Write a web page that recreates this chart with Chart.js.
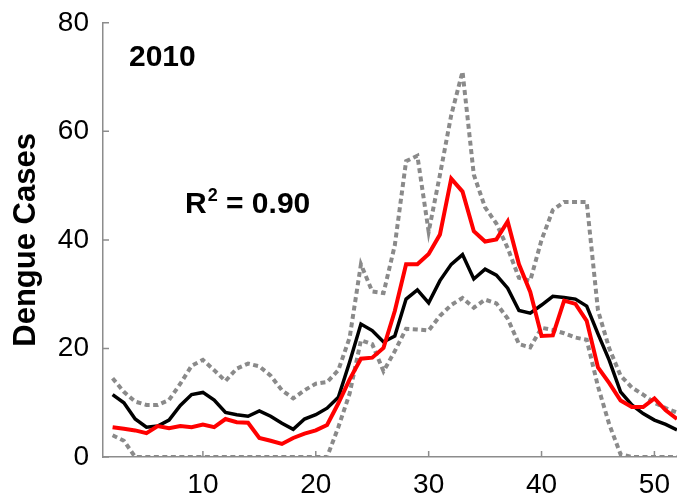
<!DOCTYPE html>
<html>
<head>
<meta charset="utf-8">
<script src="https://cdn.jsdelivr.net/npm/chart.js@4"></script>
<style>
  body { margin: 0; background: #fff; }
  #wrap { width: 677px; height: 500px; }
</style>
</head>
<body>
<div id="wrap"><canvas id="chart" width="677" height="500"></canvas></div>
<script>
const weeks = [2, 3, 4, 5, 6, 7, 8, 9, 10, 11, 12, 13, 14, 15, 16, 17, 18, 19, 20, 21,
  22, 23, 24, 25, 26, 27, 28, 29, 30, 31, 32, 33, 34, 35, 36, 37, 38, 39, 40, 41,
  42, 43, 44, 45, 46, 47, 48, 49, 50, 51, 52];

// observed cases (red)
const observed = [5.5, 5.2, 4.9, 4.4, 5.7, 5.3, 5.7, 5.5, 6, 5.5,
  7, 6.4, 6.3, 3.5, 3, 2.4, 3.5, 4.3, 4.9, 5.9,
  9.9, 14.3, 18.1, 18.3, 20.1, 26.9, 35.5, 35.5, 37.4, 41,
  51.3, 48.9, 41.6, 39.7, 40.1, 43.4, 35.5, 30.4, 22.3, 22.4,
  28.8, 28.2, 25.1, 16.5, 13.6, 10.4, 9.2, 9.2, 10.8, 8.6, 7];

// model mean (black)
const predicted = [11.5, 10, 7, 5.5, 5.7, 6.8, 9.5, 11.5, 11.9, 10.5,
  8.2, 7.8, 7.5, 8.5, 7.5, 6.2, 5.1, 7, 7.8, 9,
  11, 17.5, 24.5, 23.3, 21.2, 22.3, 29.1, 30.8, 28.4, 32.5,
  35.5, 37.3, 32.8, 34.6, 33.5, 31.1, 27, 26.5, 28, 29.6,
  29.4, 29.1, 27.8, 22.7, 17.8, 12, 9.6, 8, 6.8, 6, 5];

// bounds (grey dashed)
const upper = [14.5, 12, 10.2, 9.6, 9.6, 10.5, 13.5, 16.8, 17.9, 16,
  14, 16.3, 17.2, 16.7, 15, 12.3, 10.8, 12.3, 13.5, 13.8,
  16, 22, 35.5, 30.5, 30.2, 39, 54.5, 55.5, 41.5, 52,
  63, 71, 52, 46, 43, 38.5, 33, 32.5, 40, 45.5,
  47, 47, 47, 27, 20, 15, 12.8, 11.5, 10, 9, 8.2];

const lower = [4, 3, 0, 0, 0, 0, 0, 0, 0, 0,
  0, 0, 0, 0, 0, 0, 0, 0, 0, 0,
  5.5, 11.7, 21.5, 20.8, 15.8, 19.5, 23.6, 23.5, 23.3, 26,
  28, 29.3, 27.5, 29, 28.3, 25.5, 20.8, 20.2, 23.8, 23.4,
  22.8, 22, 21.6, 13, 6, 0.5, 0, 0, 0, 0, 0];

const xTicks = [10, 20, 30, 40, 50];
const yTicks = [0, 20, 40, 60, 80];

const FONT = "'Liberation Sans', Arial, sans-serif";
const AXIS_GREY = "#8c8c8c";

const toPoints = (values) => weeks.map((w, i) => ({ x: w, y: values[i] }));

const lineSet = (label, values, color, width, dash) => ({
  label: label,
  data: toPoints(values),
  borderColor: color,
  borderWidth: width,
  borderDash: dash || [],
  pointRadius: 0,
  tension: 0,
  fill: false,
});

// short tick marks pointing into the plot, like the original
const innerTicks = {
  id: "innerTicks",
  afterDraw(chart) {
    const { ctx, chartArea, scales } = chart;
    ctx.save();
    ctx.strokeStyle = AXIS_GREY;
    ctx.lineWidth = 1.5;
    ctx.beginPath();
    xTicks.forEach((t) => {
      const px = scales.x.getPixelForValue(t);
      ctx.moveTo(px, chartArea.bottom);
      ctx.lineTo(px, chartArea.bottom - 6);
    });
    yTicks.forEach((t) => {
      const py = scales.y.getPixelForValue(t);
      ctx.moveTo(chartArea.left, py);
      ctx.lineTo(chartArea.left + 6, py);
    });
    ctx.stroke();
    ctx.restore();
  },
};

const labels = {
  id: "labels",
  afterDraw(chart) {
    const { ctx } = chart;
    ctx.save();
    ctx.fillStyle = "#000";
    ctx.textBaseline = "alphabetic";
    ctx.font = "bold 30px " + FONT;
    ctx.fillText("2010", 129, 66);

    let x = 185;
    ctx.fillText("R", x, 213);
    x += ctx.measureText("R").width + 1;
    ctx.font = "bold 18px " + FONT;
    ctx.fillText("2", x, 201);
    x += ctx.measureText("2").width;
    ctx.font = "bold 30px " + FONT;
    ctx.fillText(" = 0.90", x, 213);
    ctx.restore();
  },
};

new Chart(document.getElementById("chart"), {
  type: "line",
  data: {
    datasets: [
      lineSet("Observed", observed, "#ff0000", 4),
      lineSet("Predicted", predicted, "#000000", 3.5),
      lineSet("Upper", upper, "#8a8a8a", 4, [5, 3.5]),
      lineSet("Lower", lower, "#8a8a8a", 4, [5, 3.5]),
    ],
  },
  options: {
    responsive: false,
    animation: false,
    devicePixelRatio: 1,
    layout: { padding: { top: 9, right: 0, left: 0, bottom: 0 } },
    plugins: {
      legend: { display: false },
      tooltip: { enabled: false },
    },
    scales: {
      x: {
        type: "linear",
        min: 1.15,
        max: 52,
        grid: { display: false },
        border: { color: AXIS_GREY, width: 1.5 },
        afterBuildTicks: (scale) => {
          scale.ticks = xTicks.map((v) => ({ value: v }));
        },
        afterFit: (scale) => {
          scale.height = 43;
        },
        ticks: {
          color: "#000",
          padding: 3,
          maxRotation: 0,
          font: { family: FONT, size: 28 },
        },
      },
      y: {
        min: 0,
        max: 80,
        grid: { display: false },
        border: { color: AXIS_GREY, width: 1.5 },
        afterBuildTicks: (scale) => {
          scale.ticks = yTicks.map((v) => ({ value: v }));
        },
        afterFit: (scale) => {
          scale.width = 103;
        },
        ticks: {
          color: "#000",
          padding: 6,
          font: { family: FONT, size: 28 },
        },
        title: {
          display: true,
          text: "Dengue Cases",
          color: "#000",
          padding: { top: 8, bottom: 0 },
          font: { family: FONT, size: 31, weight: "bold" },
        },
      },
    },
  },
  plugins: [innerTicks, labels],
});
</script>
</body>
</html>
